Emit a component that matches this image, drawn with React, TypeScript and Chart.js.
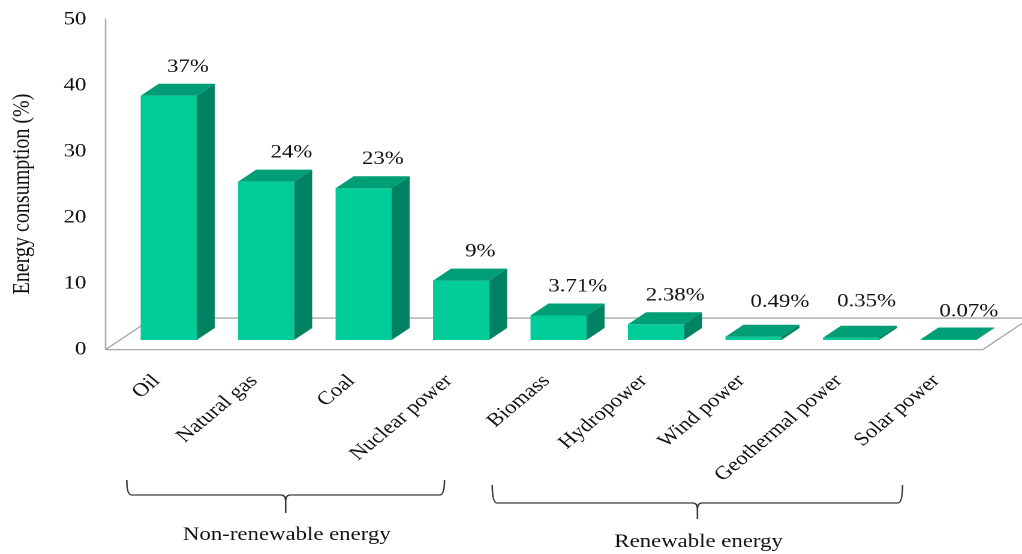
import React, { useEffect, useRef } from 'react';
import { Chart, registerables } from 'chart.js';

Chart.register(...registerables);

// ---- data ----
const categories = [
  'Oil',
  'Natural gas',
  'Coal',
  'Nuclear power',
  'Biomass',
  'Hydropower',
  'Wind power',
  'Geothermal power',
  'Solar power',
];
const shares = [37, 24, 23, 9, 3.71, 2.38, 0.49, 0.35, 0.07];
const yMin = 0;
const yMax = 50;
const yStep = 10;
const groupNames = ['Non-renewable energy', 'Renewable energy'];

// ---- presentation ----
const PAGE_W = 1022;
const PAGE_H = 554;
const CANVAS_W = 852;
const STRETCH = PAGE_W / CANVAS_W;

const FONT_FAMILY = '"Liberation Serif", "Times New Roman", serif';
const TEXT = '#111111';
const FRONT = '#00CC99';
const TOP = '#009E77';
const SIDE = '#008263';
const FLOOR_LINE = '#a8a8a8';

const DEPTH_X = 15;
const DEPTH_Y = 12;
// floor edges, as multiples of one bar depth in front of / behind the bars
const FLOOR_FRONT = 0.8;
const FLOOR_BACK = 1.83;

// small hand nudges of individual value labels (canvas px)
const labelNudgeX = [0, 5, 0, 0, 0, 0, 6, -3, 1];
const labelNudgeY = [0, 0, 0, 0, 0, 0, -6, -7, 1];

// brace geometry per group: span in category units plus vertical rows
const braceLayout = [
  { from: -0.43, to: 2.83, top: 480, line: 495, tip: 513, label: 535 },
  { from: 3.32, to: 7.53, top: 485, line: 503, tip: 519, label: 542 },
];

function fmt(v: number) {
  return Number.isInteger(v) ? `${v}%` : `${v.toFixed(2)}%`;
}

const threeDPlugin = {
  id: 'threeD',
  beforeDatasetsDraw(chart: any) {
    const { ctx, chartArea: a } = chart;
    const ys = chart.scales.y;
    const base = ys.getPixelForValue(0);
    const fdx = -FLOOR_FRONT * DEPTH_X;
    const fdy = FLOOR_FRONT * DEPTH_Y;
    const bdx = FLOOR_BACK * DEPTH_X;
    const bdy = -FLOOR_BACK * DEPTH_Y;
    ctx.save();
    ctx.strokeStyle = FLOOR_LINE;
    ctx.lineWidth = 1.3;
    ctx.beginPath();
    // back edge
    ctx.moveTo(a.left + bdx, base + bdy);
    ctx.lineTo(a.right + bdx, base + bdy);
    // left / right sides
    ctx.moveTo(a.left + fdx, base + fdy);
    ctx.lineTo(a.left + bdx, base + bdy);
    ctx.moveTo(a.right + fdx, base + fdy);
    ctx.lineTo(a.right + bdx, base + bdy);
    // front edge
    ctx.moveTo(a.left + fdx, base + fdy);
    ctx.lineTo(a.right + fdx, base + fdy);
    // value axis
    ctx.moveTo(a.left + fdx, ys.getPixelForValue(yMax) + fdy - 1);
    ctx.lineTo(a.left + fdx, base + fdy);
    ctx.stroke();
    ctx.restore();
  },
  afterDatasetsDraw(chart: any) {
    const { ctx } = chart;
    const meta = chart.getDatasetMeta(0);
    ctx.save();
    meta.data.forEach((bar: any, i: number) => {
      const { x, y, base, width } = bar.getProps(['x', 'y', 'base', 'width'], true);
      const l = x - width / 2;
      const r = x + width / 2;
      // top face
      ctx.fillStyle = TOP;
      ctx.beginPath();
      ctx.moveTo(l, y);
      ctx.lineTo(l + DEPTH_X, y - DEPTH_Y);
      ctx.lineTo(r + DEPTH_X, y - DEPTH_Y);
      ctx.lineTo(r, y);
      ctx.closePath();
      ctx.fill();
      // side face
      ctx.fillStyle = SIDE;
      ctx.beginPath();
      ctx.moveTo(r, y);
      ctx.lineTo(r + DEPTH_X, y - DEPTH_Y);
      ctx.lineTo(r + DEPTH_X, base - DEPTH_Y);
      ctx.lineTo(r, base);
      ctx.closePath();
      ctx.fill();
      // value label
      ctx.fillStyle = TEXT;
      ctx.font = `19px ${FONT_FAMILY}`;
      ctx.textAlign = 'center';
      ctx.textBaseline = 'middle';
      ctx.fillText(
        fmt(shares[i]),
        x + DEPTH_X + 1 + labelNudgeX[i],
        y - DEPTH_Y - 17 + labelNudgeY[i]
      );
    });
    ctx.restore();
  },
  afterDraw(chart: any) {
    const { ctx, chartArea: a } = chart;
    const xs = chart.scales.x;
    ctx.save();
    // value axis title
    ctx.fillStyle = TEXT;
    ctx.font = `20px ${FONT_FAMILY}`;
    ctx.textAlign = 'center';
    ctx.textBaseline = 'middle';
    ctx.translate(18.5, (a.top + a.bottom) / 2 + 19);
    ctx.rotate(-Math.PI / 2);
    ctx.fillText('Energy consumption (%)', 0, 0);
    ctx.restore();

    // group braces
    ctx.save();
    ctx.strokeStyle = '#3a3a3a';
    ctx.lineWidth = 1.3;
    ctx.fillStyle = TEXT;
    ctx.font = `19px ${FONT_FAMILY}`;
    ctx.textAlign = 'center';
    ctx.textBaseline = 'middle';
    braceLayout.forEach((g, gi) => {
      const x1 = xs.getPixelForValue(g.from);
      const x2 = xs.getPixelForValue(g.to);
      const xm = (x1 + x2) / 2;
      const r = 4;
      ctx.beginPath();
      ctx.moveTo(x1, g.top);
      ctx.quadraticCurveTo(x1, g.line, x1 + r, g.line);
      ctx.lineTo(xm - r, g.line);
      ctx.quadraticCurveTo(xm, g.line, xm, g.line + 6);
      ctx.lineTo(xm, g.tip);
      ctx.moveTo(xm, g.line + 6);
      ctx.quadraticCurveTo(xm, g.line, xm + r, g.line);
      ctx.lineTo(x2 - r, g.line);
      ctx.quadraticCurveTo(x2, g.line, x2, g.top);
      ctx.stroke();
      ctx.fillText(groupNames[gi], xm + 1, g.label);
    });
    ctx.restore();
  },
};

export default function App() {
  const canvasRef = useRef<HTMLCanvasElement | null>(null);

  useEffect(() => {
    if (!canvasRef.current) return;
    const font = { family: FONT_FAMILY, size: 19 };
    const chart = new Chart(canvasRef.current, {
      type: 'bar',
      data: {
        labels: categories,
        datasets: [
          {
            data: shares,
            backgroundColor: FRONT,
            borderWidth: 0,
            barPercentage: 0.575,
            categoryPercentage: 1,
          },
        ],
      },
      options: {
        animation: false,
        responsive: true,
        maintainAspectRatio: false,
        devicePixelRatio: 2,
        layout: { padding: { top: 10, right: 20.75, left: 0, bottom: 0 } },
        plugins: {
          legend: { display: false },
          tooltip: { enabled: false },
          title: { display: false },
        },
        scales: {
          x: {
            grid: { display: false, drawTicks: false },
            border: { display: false },
            ticks: {
              autoSkip: false,
              minRotation: 45,
              maxRotation: 45,
              padding: 30,
              labelOffset: -10,
              color: TEXT,
              font,
            },
            afterFit: (s: any) => {
              s.height = 214;
              s.paddingLeft = 0;
              s.paddingRight = 0;
            },
          },
          y: {
            min: yMin,
            max: yMax,
            grid: { display: false, drawTicks: false },
            border: { display: false },
            ticks: {
              stepSize: yStep,
              padding: 28,
              labelOffset: FLOOR_FRONT * DEPTH_Y,
              color: TEXT,
              font,
            },
            afterFit: (s: any) => {
              s.width = 100;
              s.paddingTop = 0;
              s.paddingBottom = 0;
            },
          },
        },
      },
      plugins: [threeDPlugin],
    });
    return () => chart.destroy();
  }, []);

  return (
    <div
      style={{
        position: 'fixed',
        left: 0,
        top: 0,
        width: PAGE_W,
        height: PAGE_H,
        overflow: 'hidden',
        background: '#ffffff',
      }}
    >
      <div
        style={{
          width: CANVAS_W,
          height: PAGE_H,
          transform: `scaleX(${STRETCH})`,
          transformOrigin: '0 0',
        }}
      >
        <canvas ref={canvasRef} />
      </div>
    </div>
  );
}
